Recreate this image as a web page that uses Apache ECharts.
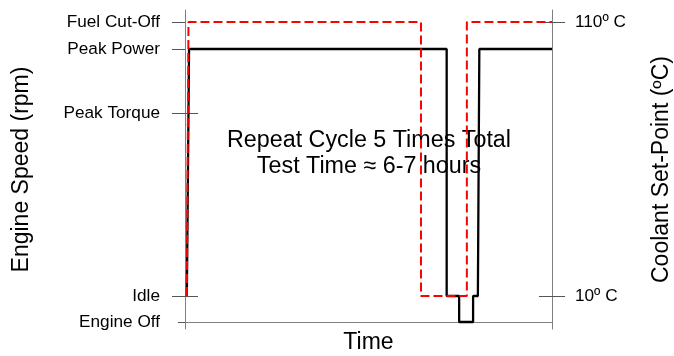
<!DOCTYPE html>
<html>
<head>
<meta charset="utf-8">
<script src="https://cdn.jsdelivr.net/npm/echarts@6/dist/echarts.min.js"></script>
<style>
html,body{margin:0;padding:0;background:#fff;}
#chart{width:674px;height:356px;}
</style>
</head>
<body>
<div id="chart"></div>
<script>
// Engine speed levels (schematic rpm scale) and their tick labels
const speedLevelNames = ['Engine Off', 'Idle', 'Peak Torque', 'Peak Power', 'Fuel Cut-Off'];
const speedLevelValues = [0, 520, 4180, 5460, 6000];

// Coolant set-point levels and tick labels
const coolantLevelValues = [10, 110];
const coolantLevelNames = ['10º C', '110º C'];

// Engine speed profile (time in % of cycle, speed in rpm scale)
const speedTime = [0.5, 1.1, 71.3, 71.3, 74.7, 74.7, 78.5, 78.5, 79.8, 80.2, 100];
const speedValues = [520, 5460, 5460, 520, 520, 0, 0, 520, 520, 5460, 5460];

// Coolant set-point profile (time in % of cycle, °C)
const coolantTime = [0.5, 0.95, 64.3, 64.3, 76.8, 76.8, 100];
const coolantValues = [10, 110, 110, 10, 10, 110, 110];

const annotation = 'Repeat Cycle 5 Times Total\nTest Time ≈ 6-7 hours';

const FONT = 'Liberation Sans, Arial, sans-serif';
const AXIS_GRAY = '#7f7f7f';

const chart = echarts.init(document.getElementById('chart'), null, {renderer: 'canvas'});

function labelFor(names, values) {
  return function (v) {
    for (let i = 0; i < values.length; i++) {
      if (Math.abs(values[i] - v) < 1e-6) return names[i];
    }
    return '';
  };
}

const option = {
  backgroundColor: '#ffffff',
  animation: false,
  title: {
    text: annotation,
    left: 364,
    top: 123,
    textAlign: 'center',
    z: 0,
    textStyle: {
      fontFamily: FONT,
      fontSize: 23.3,
      fontWeight: 'normal',
      color: '#000',
      lineHeight: 26
    }
  },
  grid: {left: 185, right: 122, top: 10, bottom: 27, outerBoundsMode: 'none', containLabel: false},
  xAxis: {
    type: 'value',
    min: 0,
    max: 100,
    name: 'Time',
    nameLocation: 'middle',
    nameGap: 2,
    nameTextStyle: {fontFamily: FONT, fontSize: 23, color: '#000', verticalAlign: 'top'},
    axisLine: {show: true, onZero: true, onZeroAxisIndex: 0, lineStyle: {color: AXIS_GRAY, width: 1}},
    axisTick: {show: false},
    axisLabel: {show: false},
    splitLine: {show: false}
  },
  yAxis: [
    {
      type: 'value',
      position: 'left',
      min: -140,
      max: 6240,
      name: 'Engine Speed (rpm)',
      nameLocation: 'middle',
      nameGap: 152,
      nameTextStyle: {fontFamily: FONT, fontSize: 23, color: '#000'},
      axisLine: {show: true, lineStyle: {color: AXIS_GRAY, width: 1}},
      axisTick: {show: true, length: 13, customValues: speedLevelValues.slice(1), lineStyle: {color: '#555'}},
      axisLabel: {
        show: true,
        customValues: speedLevelValues,
        margin: 25,
        fontFamily: FONT,
        fontSize: 17.2,
        color: '#000',
        formatter: labelFor(speedLevelNames, speedLevelValues)
      },
      splitLine: {show: false}
    },
    {
      type: 'value',
      position: 'left',
      offset: 0,
      min: -140,
      max: 6240,
      axisLine: {show: false},
      axisTick: {show: true, inside: true, length: 13, customValues: [speedLevelValues[1], speedLevelValues[2]], lineStyle: {color: '#555'}},
      axisLabel: {show: false},
      splitLine: {show: false}
    },
    {
      type: 'value',
      position: 'left',
      offset: 0,
      min: -140,
      max: 6240,
      axisLine: {show: false},
      axisTick: {show: true, length: 7, customValues: [speedLevelValues[0]], lineStyle: {color: '#555'}},
      axisLabel: {show: false},
      splitLine: {show: false}
    },
    {
      type: 'value',
      position: 'right',
      offset: 0,
      min: -2.04,
      max: 114.38,
      name: 'Coolant Set-Point (ºC)',
      nameLocation: 'middle',
      nameGap: 98,
      nameTextStyle: {fontFamily: FONT, fontSize: 23, color: '#000'},
      axisLine: {show: true, lineStyle: {color: AXIS_GRAY, width: 1}},
      axisTick: {show: true, length: 13, customValues: coolantLevelValues, lineStyle: {color: '#555'}},
      axisLabel: {
        show: true,
        customValues: coolantLevelValues,
        margin: 23,
        fontFamily: FONT,
        fontSize: 17.2,
        color: '#000',
        formatter: labelFor(coolantLevelNames, coolantLevelValues)
      },
      splitLine: {show: false}
    },
    {
      type: 'value',
      position: 'right',
      offset: 0,
      min: -2.04,
      max: 114.38,
      axisLine: {show: false},
      axisTick: {show: true, inside: true, length: 13, customValues: coolantLevelValues, lineStyle: {color: '#555'}},
      axisLabel: {show: false},
      splitLine: {show: false}
    }
  ],
  series: [
    {
      name: 'Engine Speed',
      type: 'line',
      yAxisIndex: 0,
      z: 3,
      showSymbol: false,
      symbol: 'none',
      lineStyle: {color: '#000', width: 2.3},
      data: speedTime.map((t, i) => [t, speedValues[i]])
    },
    {
      name: 'Coolant Set-Point',
      type: 'line',
      yAxisIndex: 3,
      z: 4,
      showSymbol: false,
      symbol: 'none',
      lineStyle: {color: '#ff0000', width: 2, type: [9, 4]},
      data: coolantTime.map((t, i) => [t, coolantValues[i]])
    }
  ]
};

chart.setOption(option);
</script>
</body>
</html>
